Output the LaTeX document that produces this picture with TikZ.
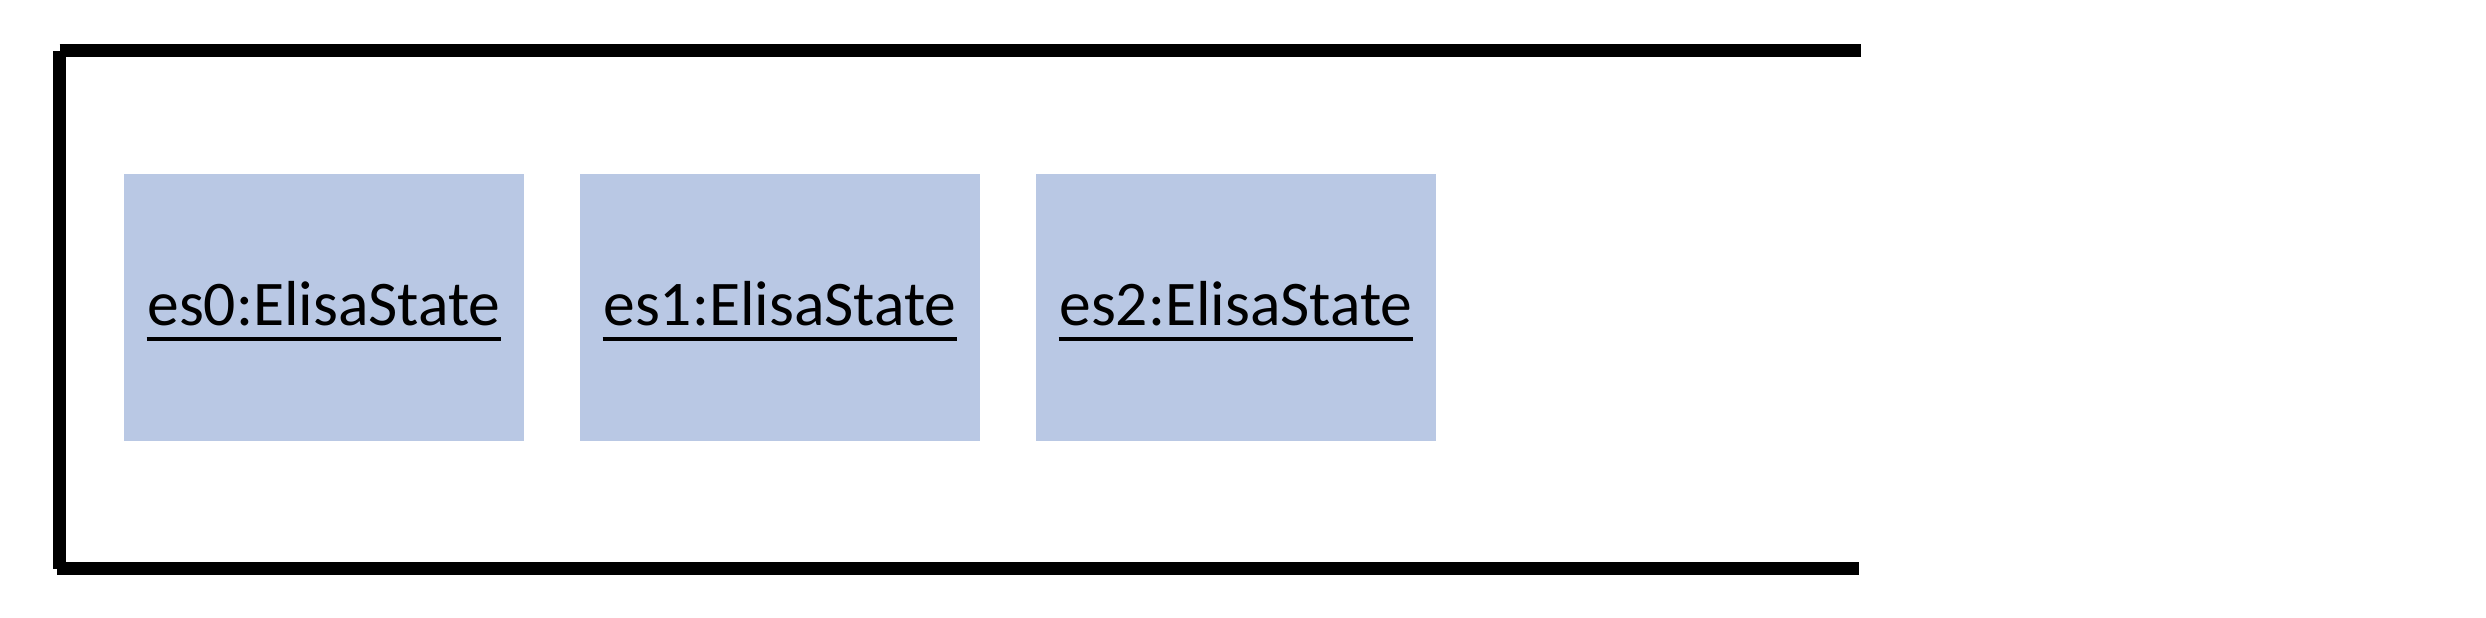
\documentclass[tikz,border=0pt]{standalone}
\usepackage{fontspec}
\newfontfamily\lblfont{Carlito}
\definecolor{boxblue}{RGB}{185,200,228}
\begin{document}
\begin{tikzpicture}[x=0.25pt,y=-0.25pt,
  frameline/.style={line width=3.25pt,line cap=butt,black},
  statebox/.style={fill=boxblue,draw=none,inner sep=0pt,minimum width=100pt,minimum height=66.75pt},
  statelbl/.style={inner sep=0pt,anchor=base,font=\lblfont\fontsize{15.9pt}{18pt}\selectfont},
  uline/.style={line width=1pt,line cap=butt,black}]
\useasboundingbox (0,0) rectangle (2486,618);
\coordinate (tl) at (59.5,51);
\coordinate (tr) at (1861,51);
\coordinate (bl) at (57,568.5);
\coordinate (br) at (1859,568.5);
\coordinate (lt) at (59.5,51);
\coordinate (lb) at (59.5,569);
\draw[frameline] (tl) -- (tr);
\draw[frameline] (bl) -- (br);
\draw[frameline] (lt) -- (lb);
\foreach \i/\x in {0/324,1/780,2/1236}{
  \node[statebox] (b\i) at (\x,307.5) {};
  \node[statelbl] (t\i) at (\x,326) {es\i:ElisaState};
  \draw[uline] ([yshift=-3.25pt]t\i.base west) -- ([yshift=-3.25pt]t\i.base east);
}
\end{tikzpicture}
\end{document}
